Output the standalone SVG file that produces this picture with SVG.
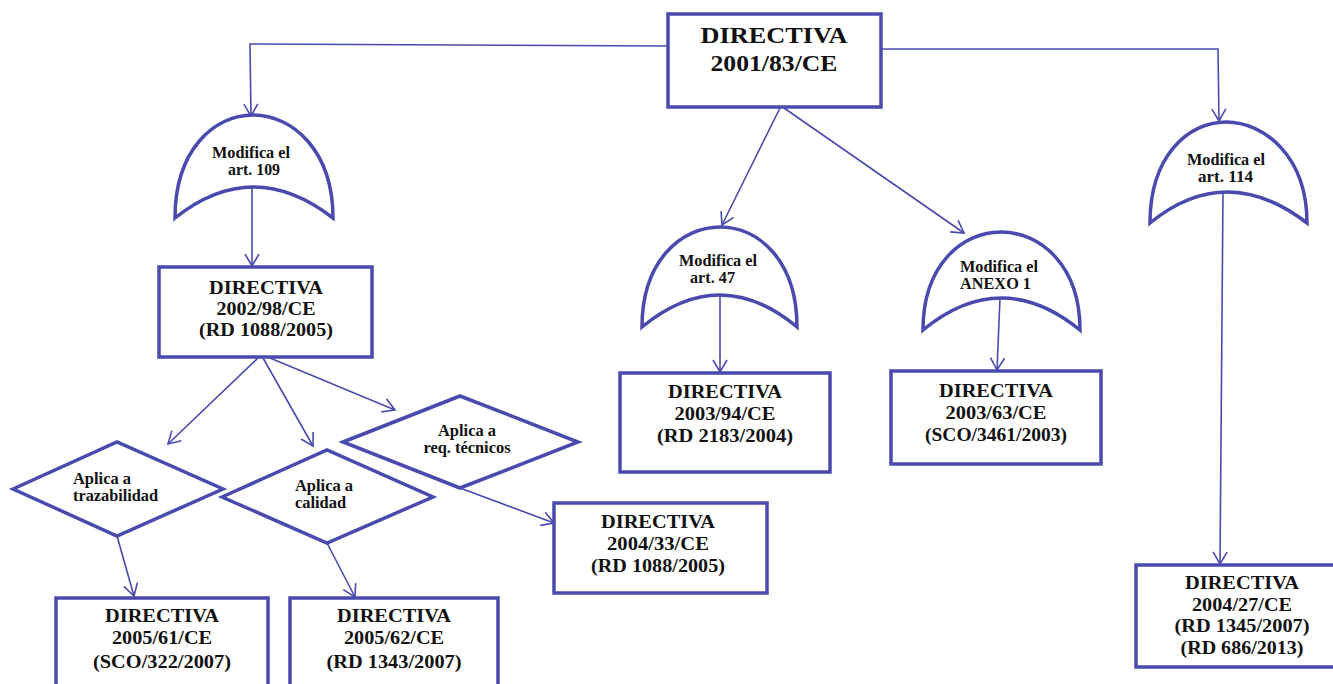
<svg xmlns="http://www.w3.org/2000/svg" width="1333" height="684" viewBox="0 0 1333 684">
<style>
.shape{fill:#fff;stroke:#4A4AAE;stroke-width:3.5}
.conn{fill:none;stroke:#4A4AAE;stroke-width:1.6;marker-end:url(#arr)}
text{font-family:"Liberation Serif","Times New Roman",serif;font-weight:bold;fill:#111}
.bt{font-size:18px;text-anchor:middle}
.tt{font-size:23px;text-anchor:middle}
.lt{font-size:16px}
.dt{font-size:16px;text-anchor:middle}
</style>
<defs>
<marker id="arr" markerUnits="userSpaceOnUse" markerWidth="16" markerHeight="16" viewBox="0 0 16 16" refX="14" refY="8" orient="auto">
<path d="M2,1 L14,8 L2,15" fill="none" stroke="#4A4AAE" stroke-width="1.6"/>
</marker>
</defs>
<rect width="1333" height="684" fill="#fff"/>

<g id="connectors">
<polyline class="conn" points="668,46 250,44 251,116"/>
<polyline class="conn" points="881,49 1218,49 1219,121"/>
<line class="conn" x1="780" y1="108" x2="722" y2="225"/>
<line class="conn" x1="784" y1="108" x2="964" y2="233"/>
<line class="conn" x1="252" y1="187" x2="252" y2="266"/>
<line class="conn" x1="720" y1="295" x2="720" y2="372"/>
<line class="conn" x1="1000" y1="298" x2="997" y2="370"/>
<line class="conn" x1="1223" y1="192" x2="1220" y2="564"/>
<line class="conn" x1="258" y1="358" x2="168" y2="444"/>
<line class="conn" x1="263" y1="358" x2="313" y2="446"/>
<line class="conn" x1="270" y1="358" x2="395" y2="410"/>
<line class="conn" x1="117" y1="536" x2="134" y2="596"/>
<line class="conn" x1="327" y1="543" x2="355" y2="597"/>
<line class="conn" x1="460" y1="488" x2="554" y2="523"/>
</g>

<g id="n_top">
<rect class="shape" x="668" y="14" width="213" height="93"/>
<text class="tt" x="774" y="43" textLength="147" lengthAdjust="spacingAndGlyphs">DIRECTIVA</text>
<text class="tt" x="774" y="71" textLength="127" lengthAdjust="spacingAndGlyphs">2001/83/CE</text>
</g>

<g id="n_mod109">
<path class="shape" d="M175,218 C175,150 214,115 253,115 C292,115 333,150 333,218 Q253,156 175,218 Z"/>
<text class="lt" x="212" y="158" textLength="78" lengthAdjust="spacingAndGlyphs">Modifica el</text>
<text class="lt" x="228" y="175" textLength="52" lengthAdjust="spacingAndGlyphs">art. 109</text>
</g>

<g id="n_mod47">
<path class="shape" d="M642,327 C642,261 681,227 720,227 C759,227 797,261 797,327 Q720,263 642,327 Z"/>
<text class="lt" x="679" y="266" textLength="78" lengthAdjust="spacingAndGlyphs">Modifica el</text>
<text class="lt" x="690" y="283" textLength="45" lengthAdjust="spacingAndGlyphs">art. 47</text>
</g>

<g id="n_modanexo">
<path class="shape" d="M923,330 C923,265 962,232 1001,232 C1040,232 1080,265 1080,330 Q1001,266 923,330 Z"/>
<text class="lt" x="960" y="272" textLength="78" lengthAdjust="spacingAndGlyphs">Modifica el</text>
<text class="lt" x="960" y="289" textLength="71" lengthAdjust="spacingAndGlyphs">ANEXO 1</text>
</g>

<g id="n_mod114">
<path class="shape" d="M1150,223 C1150,156 1188,122 1226,122 C1264,122 1307,156 1307,223 Q1226,161 1150,223 Z"/>
<text class="lt" x="1187" y="165" textLength="78" lengthAdjust="spacingAndGlyphs">Modifica el</text>
<text class="lt" x="1198" y="182" textLength="55" lengthAdjust="spacingAndGlyphs">art. 114</text>
</g>

<g id="n_2002_98">
<rect class="shape" x="159" y="267" width="213" height="90"/>
<text class="bt" x="266" y="294" textLength="114" lengthAdjust="spacingAndGlyphs">DIRECTIVA</text>
<text class="bt" x="266" y="315" textLength="99" lengthAdjust="spacingAndGlyphs">2002/98/CE</text>
<text class="bt" x="266" y="336" textLength="134" lengthAdjust="spacingAndGlyphs">(RD 1088/2005)</text>
</g>

<g id="n_2003_94">
<rect class="shape" x="620" y="373" width="210" height="99"/>
<text class="bt" x="725" y="398" textLength="114" lengthAdjust="spacingAndGlyphs">DIRECTIVA</text>
<text class="bt" x="725" y="420" textLength="101" lengthAdjust="spacingAndGlyphs">2003/94/CE</text>
<text class="bt" x="725" y="442" textLength="136" lengthAdjust="spacingAndGlyphs">(RD 2183/2004)</text>
</g>

<g id="n_2003_63">
<rect class="shape" x="891" y="371" width="210" height="93"/>
<text class="bt" x="996" y="397" textLength="114" lengthAdjust="spacingAndGlyphs">DIRECTIVA</text>
<text class="bt" x="996" y="419" textLength="101" lengthAdjust="spacingAndGlyphs">2003/63/CE</text>
<text class="bt" x="996" y="441" textLength="142" lengthAdjust="spacingAndGlyphs">(SCO/3461/2003)</text>
</g>

<g id="n_trazabilidad">
<polygon class="shape" points="13,489 117,442 223,489 117,536"/>
<text class="lt" x="73" y="484" textLength="58" lengthAdjust="spacingAndGlyphs">Aplica a</text>
<text class="lt" x="73" y="501" textLength="85" lengthAdjust="spacingAndGlyphs">trazabilidad</text>
</g>

<g id="n_calidad">
<polygon class="shape" points="222,497 327,450 433,497 327,543"/>
<text class="lt" x="295" y="491" textLength="58" lengthAdjust="spacingAndGlyphs">Aplica a</text>
<text class="lt" x="295" y="508" textLength="51" lengthAdjust="spacingAndGlyphs">calidad</text>
</g>

<g id="n_reqtec">
<polygon class="shape" points="343,442 460,396 578,442 460,488"/>
<text class="dt" x="467" y="436" textLength="58" lengthAdjust="spacingAndGlyphs">Aplica a</text>
<text class="dt" x="467" y="453" textLength="87" lengthAdjust="spacingAndGlyphs">req. técnicos</text>
</g>

<g id="n_2004_33">
<rect class="shape" x="554" y="503" width="213" height="90"/>
<text class="bt" x="658" y="528" textLength="114" lengthAdjust="spacingAndGlyphs">DIRECTIVA</text>
<text class="bt" x="658" y="550" textLength="102" lengthAdjust="spacingAndGlyphs">2004/33/CE</text>
<text class="bt" x="658" y="572" textLength="134" lengthAdjust="spacingAndGlyphs">(RD 1088/2005)</text>
</g>

<g id="n_2005_61">
<rect class="shape" x="56" y="598" width="212" height="100"/>
<text class="bt" x="162" y="622" textLength="114" lengthAdjust="spacingAndGlyphs">DIRECTIVA</text>
<text class="bt" x="162" y="644" textLength="100" lengthAdjust="spacingAndGlyphs">2005/61/CE</text>
<text class="bt" x="162" y="668" textLength="138" lengthAdjust="spacingAndGlyphs">(SCO/322/2007)</text>
</g>

<g id="n_2005_62">
<rect class="shape" x="290" y="598" width="208" height="100"/>
<text class="bt" x="394" y="622" textLength="114" lengthAdjust="spacingAndGlyphs">DIRECTIVA</text>
<text class="bt" x="394" y="644" textLength="100" lengthAdjust="spacingAndGlyphs">2005/62/CE</text>
<text class="bt" x="394" y="668" textLength="135" lengthAdjust="spacingAndGlyphs">(RD 1343/2007)</text>
</g>

<g id="n_2004_27">
<rect class="shape" x="1136" y="565" width="210" height="102"/>
<text class="bt" x="1242" y="589" textLength="114" lengthAdjust="spacingAndGlyphs">DIRECTIVA</text>
<text class="bt" x="1242" y="611" textLength="100" lengthAdjust="spacingAndGlyphs">2004/27/CE</text>
<text class="bt" x="1242" y="632" textLength="135" lengthAdjust="spacingAndGlyphs">(RD 1345/2007)</text>
<text class="bt" x="1242" y="654" textLength="123" lengthAdjust="spacingAndGlyphs">(RD 686/2013)</text>
</g>
</svg>
